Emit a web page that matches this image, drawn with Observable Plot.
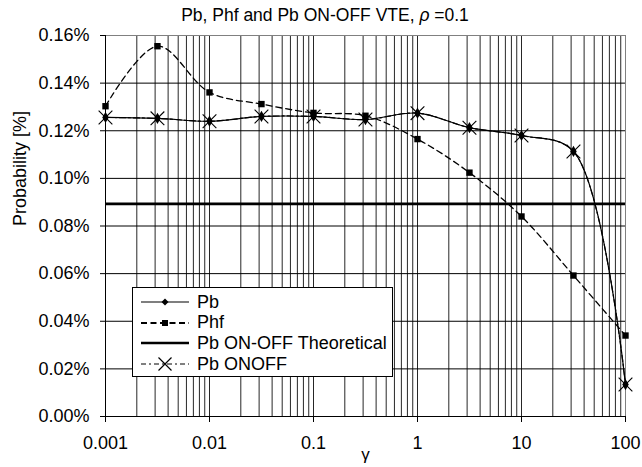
<!DOCTYPE html>
<html>
<head>
<meta charset="utf-8">
<script src="https://cdn.jsdelivr.net/npm/d3@7"></script>
<script src="https://cdn.jsdelivr.net/npm/@observablehq/plot@0.6"></script>
<style>
  html, body { margin: 0; padding: 0; background: #fff; }
  #wrap { position: relative; width: 642px; height: 467px; font-family: "Liberation Sans", Arial, sans-serif; }
  #title { position: absolute; left: 0; top: 5px; width: 650px; text-align: center; font-size: 17.5px; color: #000; }
  #legend { position: absolute; left: 132px; top: 287px; width: 259px; height: 88px; border: 1px solid #000; background: #fff; }
  .row { position: absolute; left: 0; height: 20px; display: flex; align-items: center; font-size: 18px; }
  .row svg { margin-left: 6px; margin-right: 6px; }
</style>
</head>
<body>
<div id="wrap">
  <div id="title">Pb, Phf and Pb ON-OFF VTE, <i>ρ</i> =0.1</div>
  <div id="chart"></div>
  <div id="legend"></div>
</div>
<script>
const gamma = [0.001, 0.00316, 0.01, 0.0316, 0.1, 0.316, 1, 3.16, 10, 31.6, 100];
const pb = [0.1256, 0.1252, 0.1240, 0.1260, 0.1260, 0.1247, 0.1274, 0.1213, 0.1180, 0.1113, 0.0134];
const phf = [0.1303, 0.1555, 0.1361, 0.1312, 0.1275, 0.1263, 0.1165, 0.1024, 0.0840, 0.0592, 0.0340];
const pbOnOff = [0.1256, 0.1252, 0.1240, 0.1260, 0.1260, 0.1247, 0.1274, 0.1213, 0.1180, 0.1113, 0.0134];
const pbTheoretical = [0.0893];
const xTicks = [0.001, 0.01, 0.1, 1, 10, 100];
const yTicks = [0, 0.02, 0.04, 0.06, 0.08, 0.10, 0.12, 0.14, 0.16];
const seriesNames = ["Pb", "Phf", "Pb ON-OFF Theoretical", "Pb ONOFF"];

const xMinor = [];
xTicks.slice(0, -1).forEach(d => { for (let k = 1; k <= 9; k++) xMinor.push(d * k); });
xMinor.push(xTicks[xTicks.length - 1]);

const rows = (ys) => gamma.map((g, i) => ({g, v: ys[i]}));
const smooth = "catmull-rom";
const font = "Liberation Sans, Arial, sans-serif";

const chart = Plot.plot({
  width: 642, height: 467,
  marginLeft: 105, marginRight: 17, marginTop: 35, marginBottom: 51,
  style: {fontFamily: font, fontSize: "18px", color: "#000", background: "#fff"},
  x: {type: "log", domain: [0.001, 100]},
  y: {domain: [0, 0.16]},
  marks: [
    Plot.gridX(xMinor, {stroke: "#000", strokeOpacity: 0.85, strokeWidth: 1}),
    Plot.gridY(yTicks, {stroke: "#000", strokeOpacity: 1, strokeWidth: 1}),
    Plot.frame({stroke: "#808080"}),
    Plot.ruleX([xTicks[0]], {stroke: "#000"}),
    Plot.ruleY([yTicks[0]], {stroke: "#000"}),
    Plot.axisX(xTicks, {tickSize: 6, tickPadding: 14, fontSize: 18, label: null, tickFormat: d => String(d)}),
    Plot.axisY(yTicks, {tickSize: 5, tickPadding: 11, fontSize: 18, label: null, tickFormat: d => d.toFixed(2) + "%"}),
    Plot.ruleY(pbTheoretical, {stroke: "#000", strokeWidth: 2.6}),
    Plot.line(rows(phf), {x: "g", y: "v", curve: smooth, stroke: "#000", strokeWidth: 1.3, strokeDasharray: "6,4"}),
    Plot.line(rows(pb), {x: "g", y: "v", curve: smooth, stroke: "#000", strokeWidth: 1.2}),
    Plot.line(rows(pbOnOff), {x: "g", y: "v", curve: smooth, stroke: "#000", strokeWidth: 1.2, strokeDasharray: "6,3,2,3"}),
    Plot.dot(rows(phf), {x: "g", y: "v", symbol: "square", r: 3.6, fill: "#000"}),
    Plot.dot(rows(pb), {x: "g", y: "v", symbol: "diamond", r: 3.4, fill: "#000"}),
    Plot.dot(rows(pbOnOff), {x: "g", y: "v", symbol: "times", r: 6.3, stroke: "#000", strokeWidth: 1.1}),
    Plot.text(["Probability [%]"], {frameAnchor: "left", dx: -85, rotate: -90, fontSize: 18, fill: "#000"}),
    Plot.text(["γ"], {frameAnchor: "bottom", dy: 43, fontSize: 17, fill: "#000"})
  ]
});
document.getElementById("chart").appendChild(chart);

// legend
const legend = document.getElementById("legend");
const samples = [
  `<line x1="2" y1="10" x2="50" y2="10" stroke="#000" stroke-width="1.2"/><path d="M26,6.5L29.5,10L26,13.5L22.5,10Z" fill="#000"/>`,
  `<line x1="2" y1="10" x2="50" y2="10" stroke="#000" stroke-width="2.2" stroke-dasharray="6,3.5"/><rect x="23" y="7" width="6" height="6" fill="#000"/>`,
  `<line x1="2" y1="10" x2="50" y2="10" stroke="#000" stroke-width="2.6"/>`,
  `<line x1="2" y1="10" x2="50" y2="10" stroke="#000" stroke-width="1" stroke-dasharray="5,3,2,3"/><path d="M19.5,3.5L32.5,16.5M32.5,3.5L19.5,16.5" stroke="#000" stroke-width="1.2"/>`
];
seriesNames.forEach((name, i) => {
  const row = document.createElement("div");
  row.className = "row";
  row.style.top = (4 + i * 20.7) + "px";
  row.innerHTML = `<svg width="52" height="20">${samples[i]}</svg><span>${name}</span>`;
  legend.appendChild(row);
});
</script>
</body>
</html>
